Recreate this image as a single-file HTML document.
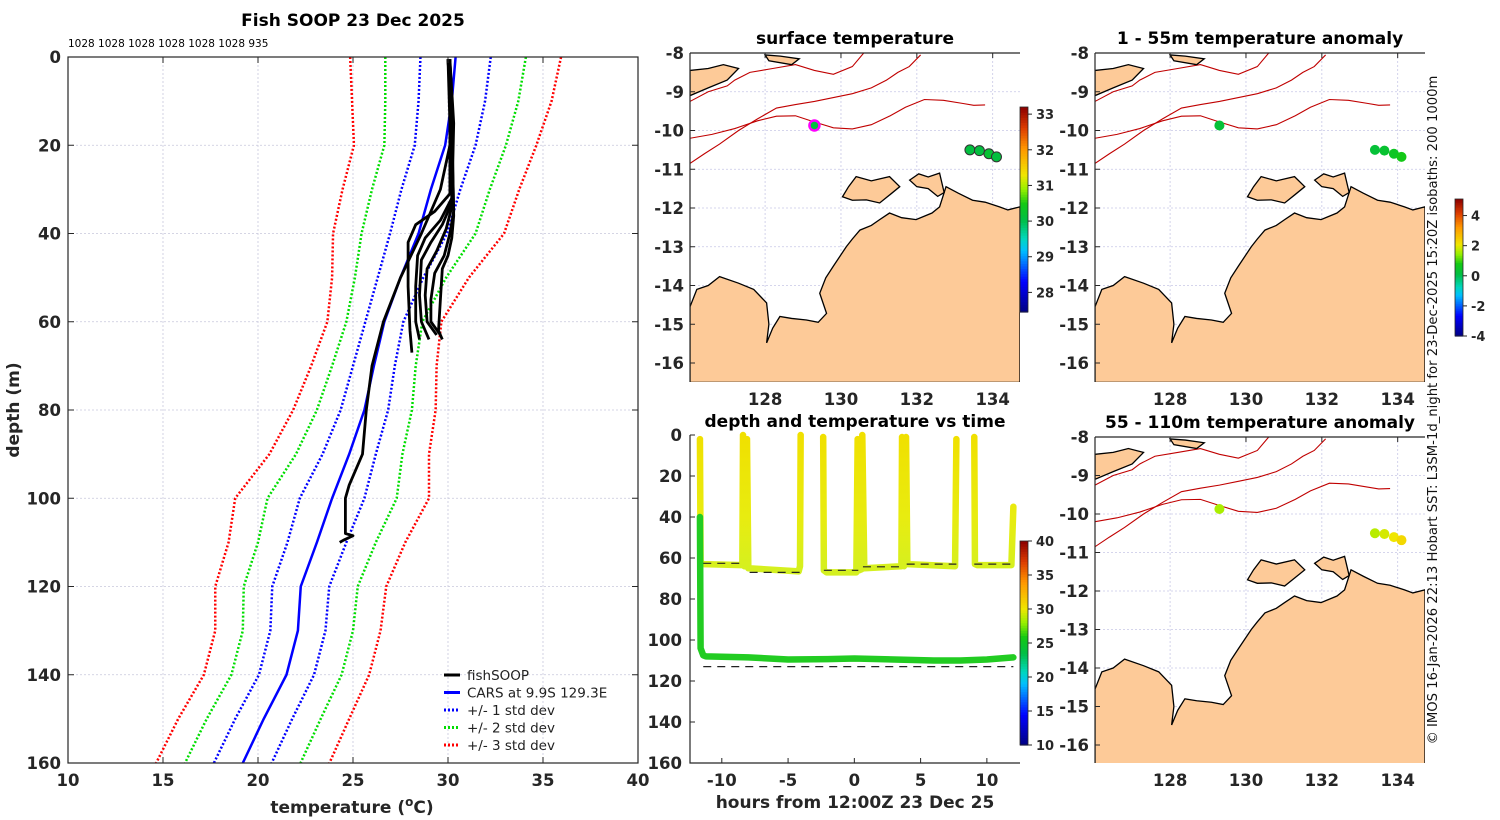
<!DOCTYPE html>
<html><head><meta charset="utf-8"><style>
html,body{margin:0;padding:0;background:#fff;}
svg{display:block;font-family:"DejaVu Sans","Liberation Sans",sans-serif;}
.tk{font-size:16.5px;font-weight:bold;fill:#262626;}
.ttl{font-size:17px;font-weight:bold;fill:#000;}
.plain{font-weight:normal;}
</style></head><body>
<svg id="fig" width="1500" height="820" viewBox="0 0 1500 820" xmlns="http://www.w3.org/2000/svg"></svg>
<script>
// ---------- Profile data ----------
const carsDepths = [0,10,20,30,40,50,60,70,80,90,100,110,120,130,140,150,160];
const carsMean   = [30.4,30.2,29.85,29.1,28.45,27.5,26.65,26.1,25.6,24.8,23.9,23.1,22.25,22.1,21.5,20.3,19.2];
const carsStd    = [1.85,1.75,1.6,1.55,1.5,1.2,1.0,1.1,1.25,1.4,1.7,1.55,1.5,1.45,1.45,1.5,1.52];
const xTicks = [10,15,20,25,30,35,40];
const yTicks = [0,20,40,60,80,100,120,140,160];
const headerCounts = "1028 1028 1028 1028 1028 1028 935";
const soopDeepT = [30.1,30.2,30.1,29.6,28.6,27.5,26.6,26.0,25.7,25.5,24.8,24.6,24.6,25.0,24.5,24.3];
const soopDeepD = [1,10,20,30,40,50,60,70,80,90,97,100,108,108.5,109.5,110];
const soopShallowT = [
 [30.0,30.1,30.1,29.3,28.3,27.9,27.9,28.0,28.1],
 [30.0,30.2,30.2,29.6,28.8,28.4,28.3,28.3,28.5],
 [30.1,30.2,30.2,29.7,29.1,28.6,28.5,28.6,29.0],
 [30.1,30.3,30.2,29.9,29.4,28.9,28.8,28.9,29.4],
 [30.1,30.2,30.3,30.1,29.8,29.3,29.1,29.1,29.6],
 [30.0,30.2,30.3,30.2,30.0,29.7,29.6,29.5,29.7]
];
const soopShallowD = [
 [0.5,15,31,35,38,42,52,62,67],
 [0.5,15,32,37,41,45,52,60,64],
 [0.5,15,33,38,42,46,54,60,64],
 [0.5,15,34,39,44,48,54,60,63],
 [0.5,15,35,40,45,49,55,60,63],
 [0.5,15,36,41,45,48,55,62,64]
];
// ---------- Map data ----------
const mapLonTicks = [128,130,132,134];
const mapLatTicks = [-8,-9,-10,-11,-12,-13,-14,-15,-16];
const australiaLon = [126.02,126.2,126.5,126.8,127.3,127.7,128.04,128.1,128.04,128.2,128.39,128.7,129.09,129.4,129.62,129.44,129.6,129.8,130.14,130.3,130.5,130.8,131.02,131.28,131.6,131.98,132.4,132.6,132.77,133.1,133.47,133.8,134.18,134.4,134.72,134.72,126.02];
const australiaLat = [-14.55,-14.1,-14.0,-13.77,-13.94,-14.1,-14.45,-15.0,-15.48,-15.1,-14.8,-14.85,-14.89,-14.95,-14.72,-14.2,-13.8,-13.5,-13.0,-12.8,-12.57,-12.45,-12.3,-12.13,-12.25,-12.3,-12.13,-11.97,-11.45,-11.62,-11.8,-11.85,-11.97,-12.05,-11.97,-16.5,-16.5];
const tiwiLon = [130.04,130.2,130.4,130.8,131.28,131.55,131.3,131.02,130.67,130.3];
const tiwiLat = [-11.71,-11.45,-11.19,-11.3,-11.19,-11.45,-11.65,-11.87,-11.79,-11.8];
const cobourgLon = [131.81,132.05,132.3,132.6,132.72,132.55,132.3,132.0];
const cobourgLat = [-11.28,-11.12,-11.2,-11.1,-11.6,-11.7,-11.5,-11.45];
const timorLon = [126.02,126.5,126.9,127.3,127.0,126.5,126.02];
const timorLat = [-8.45,-8.4,-8.3,-8.4,-8.7,-8.9,-9.1];
const isleLon = [128.0,128.4,128.9,128.7,128.1];
const isleLat = [-8.05,-8.08,-8.15,-8.3,-8.2];
const iso200Lon = [126.02,126.6,127.2,127.8,128.3,128.8,129.3,129.8,130.3,130.8,131.3,131.7,132.2,132.7,133.2,133.5,133.8];
const iso200Lat = [-10.2,-10.1,-9.95,-9.75,-9.63,-9.62,-9.78,-9.93,-9.96,-9.85,-9.62,-9.4,-9.2,-9.22,-9.3,-9.35,-9.34];
const iso1000Lon = [126.02,126.4,126.8,127.3,127.8,128.3,128.8,129.3,129.8,130.3,130.8,131.2,131.5,131.8,132.1];
const iso1000Lat = [-10.85,-10.6,-10.35,-10.0,-9.7,-9.42,-9.33,-9.25,-9.15,-9.05,-8.9,-8.7,-8.5,-8.35,-8.05];
const iso1000bLon = [126.02,126.5,127.0,127.2,127.6,128.2,128.8,129.3,129.8,130.3,130.6];
const iso1000bLat = [-9.25,-9.0,-8.85,-8.7,-8.5,-8.4,-8.3,-8.45,-8.55,-8.35,-8.0];
const shipLon = [129.3];
const shipLat = [-9.87];
const mooringLon = [133.4,133.65,133.9,134.1];
const mooringLat = [-10.5,-10.52,-10.6,-10.68];
const sstValues = [30.1,30.1,30.1,30.2,30.1];
const anom1Values = [0.3,0.3,0.4,0.6,0.8];
const anom2Values = [1.6,1.7,1.9,2.1,2.3];
const sstCbTicks = [28,29,30,31,32,33];
const anomCbTicks = [-4,-2,0,2,4];
const tempCbTicks = [10,15,20,25,30,35,40];
// ---------- Time-depth data (null = gap) ----------
const shallowHours = [-11.65,-11.6,-11.4,-8.45,-8.4,-8.3,-8.15,-8.1,-8.0,-4.2,-4.1,-4.05,null,-2.35,-2.3,-2.1,0.15,0.25,0.35,0.55,0.6,0.75,3.55,3.6,3.75,3.9,4.0,7.6,7.7,null,9.05,9.1,9.3,11.85,12.0];
const shallowDepths = [2,62,63,63.5,0,64,64,2,65,66.5,64,0,null,1,66,67,67,2,66,65.5,0,65,64,1,64,1,63,64,2,null,1,63,63.5,63.5,35];
const deepHours = [-11.65,-11.6,-11.4,-11.2,-8,-5,-2,0,3,6,8,10,12];
const deepDepths = [40,104,107.5,108,108.5,109.5,109.3,109,109.5,110,110,109.5,108.5];
const refStartH = [-11.4,-7.9,-2.3,0.65,3.95,9.05,-11.4];
const refEndH = [-8.4,-4.1,0.3,3.8,7.7,12.0,12.0];
const refDepth = [62.6,67,66,64.3,63,63,113];
const timeXTicks = [-10,-5,0,5,10];

// ---------- helpers ----------
const NS="http://www.w3.org/2000/svg";
const svg=document.getElementById('fig');
function mk(tag,attrs,parent){const e=document.createElementNS(NS,tag);for(const k in attrs)e.setAttribute(k,attrs[k]);(parent||svg).appendChild(e);return e;}
function txt(s,x,y,cls,anchor,parent,extra){const e=mk('text',Object.assign({x:x,y:y,class:cls,'text-anchor':anchor||'middle'},extra||{}),parent);e.textContent=s;return e;}
const cmapStops=[[0,[0,0,128]],[0.15,[0,0,255]],[0.3,[0,190,255]],[0.36,[0,215,190]],[0.45,[0,190,70]],[0.53,[20,200,20]],[0.6,[150,240,0]],[0.67,[240,230,0]],[0.8,[255,150,0]],[0.9,[220,60,0]],[1,[140,0,0]]];
function jet(f){f=Math.max(0,Math.min(1,f));for(let i=1;i<cmapStops.length;i++){if(f<=cmapStops[i][0]){const a=cmapStops[i-1],b=cmapStops[i];const u=(f-a[0])/(b[0]-a[0]);const c=a[1].map((v,k)=>Math.round(v+(b[1][k]-v)*u));return `rgb(${c[0]},${c[1]},${c[2]})`;}}return 'rgb(140,0,0)';}

// ---------- Profile panel ----------
const P={l:68,r:638,t:57,b:763};
const px=t=>P.l+(t-10)/30*(P.r-P.l);
const py=d=>P.t+d/160*(P.b-P.t);
const gP=mk('g',{});


xTicks.forEach(t=>{if(t>10&&t<40)mk('line',{x1:px(t),x2:px(t),y1:P.t,y2:P.b,stroke:'#c8c8dc','stroke-width':0.8,'stroke-dasharray':'2,2'},gP);});
yTicks.forEach(d=>{if(d>0&&d<160)mk('line',{x1:P.l,x2:P.r,y1:py(d),y2:py(d),stroke:'#c8c8dc','stroke-width':0.8,'stroke-dasharray':'2,2'},gP);});
const sdCols={1:'#0000ff',2:'#00dd00',3:'#ff0000'};
[3,2,1].forEach(k=>{[-1,1].forEach(s=>{
  const pts=carsDepths.map((d,i)=>px(carsMean[i]+s*k*carsStd[i])+','+py(d)).join(' ');
  const e=mk('polyline',{points:pts,fill:'none',stroke:sdCols[k],'stroke-width':2.5,'stroke-dasharray':'2,2'},gP);
  
  
});});
const cars=mk('polyline',{points:carsDepths.map((d,i)=>px(carsMean[i])+','+py(d)).join(' '),fill:'none',stroke:'#0000ff','stroke-width':2.5},gP);


soopShallowT.forEach((arr,j)=>{
  const e=mk('polyline',{points:arr.map((t,i)=>px(t)+','+py(soopShallowD[j][i])).join(' '),fill:'none',stroke:'#000','stroke-width':2.8,'stroke-linejoin':'round'},gP);
  
  
});
const deepP=mk('polyline',{points:soopDeepT.map((t,i)=>px(t)+','+py(soopDeepD[i])).join(' '),fill:'none',stroke:'#000','stroke-width':2.8,'stroke-linejoin':'round'},gP);


mk('rect',{x:P.l,y:P.t,width:P.r-P.l,height:P.b-P.t,fill:'none',stroke:'#262626','stroke-width':1.2},gP);
xTicks.forEach(t=>{mk('line',{x1:px(t),x2:px(t),y1:P.b,y2:P.b-6,stroke:'#262626'},gP);mk('line',{x1:px(t),x2:px(t),y1:P.t,y2:P.t+6,stroke:'#262626'},gP);txt(String(t),px(t),786,'tk','middle',gP);});
yTicks.forEach(d=>{mk('line',{x1:P.l,x2:P.l+6,y1:py(d),y2:py(d),stroke:'#262626'},gP);mk('line',{x1:P.r,x2:P.r-6,y1:py(d),y2:py(d),stroke:'#262626'},gP);txt(String(d),61,py(d)+6,'tk','end',gP);});
const xt=mk('text',{x:352,y:813,class:'tk','text-anchor':'middle',style:'font-size:17px'},gP);

xt.innerHTML='temperature (<tspan dy="-7" font-size="12">o</tspan><tspan dy="7">C)</tspan>';
const yt=txt('depth (m)',19,410,'tk','middle',gP,{transform:'rotate(-90 19 410)',style:'font-size:17px'});

const t1=txt('Fish SOOP 23 Dec 2025',353,26,'ttl','middle',gP);

const hc=txt(headerCounts,68,47,'plain','start',gP,{style:'font-size:10.5px;fill:#000'});

const leg=mk('g',{},gP);
const legItems=[['fishSOOP','#000',''],['CARS at 9.9S 129.3E','#0000ff',''],['+/- 1 std dev','#0000ff','2,2'],['+/- 2 std dev','#00dd00','2,2'],['+/- 3 std dev','#ff0000','2,2']];
legItems.forEach((it,i)=>{const y=675+i*17.5;mk('line',{x1:444,x2:460,y1:y,y2:y,stroke:it[1],'stroke-width':3,'stroke-dasharray':it[2]||'none'},leg);txt(it[0],467,y+5,'plain','start',leg,{style:'font-size:13.5px;fill:#222'});});

// ---------- Maps ----------
function drawMap(ax,title,values,cbInfo,markerRing,name){
  const g=mk('g',{});
  const lon0=126.02,lon1=134.72;
  const X=lo=>ax.l+(lo-lon0)/(lon1-lon0)*(ax.r-ax.l);
  const Y=la=>ax.lat8+(-8-la)*ax.sy;
  const cid='clip'+name;const cp=mk('clipPath',{id:cid},g);mk('rect',{x:ax.l,y:ax.t,width:ax.r-ax.l,height:ax.b-ax.t},cp);
  const gi=mk('g',{'clip-path':`url(#${cid})`},g);
  mapLonTicks.forEach(lo=>mk('line',{x1:X(lo),x2:X(lo),y1:ax.t,y2:ax.b,stroke:'#c8c8e6','stroke-width':0.8,'stroke-dasharray':'2,2'},gi));
  mapLatTicks.forEach(la=>mk('line',{x1:ax.l,x2:ax.r,y1:Y(la),y2:Y(la),stroke:'#c8c8e6','stroke-width':0.8,'stroke-dasharray':'2,2'},gi));
  const poly=(lons,lats,nm)=>{const e=mk('polygon',{points:lons.map((l,i)=>X(l)+','+Y(lats[i])).join(' '),fill:'#fdca98',stroke:'#000','stroke-width':1.3},gi);};
  const line=(lons,lats,nm)=>{const e=mk('polyline',{points:lons.map((l,i)=>X(l)+','+Y(lats[i])).join(' '),fill:'none',stroke:'#c00000','stroke-width':1.1},gi);};
  line(iso200Lon,iso200Lat,'isobath-200m');line(iso1000Lon,iso1000Lat,'isobath-1000m');line(iso1000bLon,iso1000bLat,'isobath-1000m-north');
  poly(australiaLon,australiaLat,'australia-land');poly(tiwiLon,tiwiLat,'tiwi-islands');poly(cobourgLon,cobourgLat,'cobourg-peninsula');poly(timorLon,timorLat,'timor-land');poly(isleLon,isleLat,'wetar-island');
  const allLon=shipLon.concat(mooringLon),allLat=shipLat.concat(mooringLat);
  allLon.forEach((lo,i)=>{
    const c=jet((values[i]-cbInfo.min)/(cbInfo.max-cbInfo.min));
    const e=mk('circle',{cx:X(lo),cy:Y(allLat[i]),r:5,fill:c,stroke:markerRing?(i==0?'#ff00ff':'#333'):'none','stroke-width':markerRing?(i==0?2.5:1):0},gi);
    
    
  });
  mk('path',{d:`M${ax.l},${ax.t} V${ax.b} M${ax.l},${ax.t} H${ax.r}`,stroke:'#262626','stroke-width':1.2,fill:'none'},g);
  mapLatTicks.forEach(la=>{const y=Y(la);if(y<ax.t-1||y>ax.b)return;mk('line',{x1:ax.l,x2:ax.l+5,y1:y,y2:y,stroke:'#262626'},g);txt(String(la),ax.l-6,y+6,'tk','end',g);});
  mapLonTicks.forEach(lo=>{mk('line',{x1:X(lo),x2:X(lo),y1:ax.t,y2:ax.t+5,stroke:'#262626'},g);txt(String(lo),X(lo),ax.b+23,'tk','middle',g);});
  const tt=txt(title,(ax.l+ax.r)/2,ax.t-9,'ttl','middle',g);
  return g;
}
function colorbar(x,y0,y1,min,max,ticks,name,w){
  const g=mk('g',{});
  const n=80;for(let i=0;i<n;i++){mk('rect',{x:x,y:y1-(i+1)*(y1-y0)/n,width:w||8,height:(y1-y0)/n+0.6,fill:jet((i+0.5)/n)},g);}
  mk('rect',{x:x,y:y0,width:w||8,height:y1-y0,fill:'none',stroke:'#262626','stroke-width':0.8},g);
  ticks.forEach(t=>{const y=y1-(t-min)/(max-min)*(y1-y0);if(y<y0-1)return;mk('line',{x1:x+(w||8),x2:x+(w||8)+4,y1:y,y2:y,stroke:'#262626'},g);txt(String(t),x+(w||8)+8,y+5,'tk','start',g,{style:'font-size:13px'});});
  return g;
}
const sstCb={min:27.45,max:33.2},anomCb={min:-4,max:5.1},tempCb={min:10,max:40};
drawMap({l:690,r:1020,t:53,b:382,lat8:53,sy:38.75},'surface temperature',sstValues,sstCb,true,'surface-temperature-map');
colorbar(1020,107,312,sstCb.min,sstCb.max,sstCbTicks,'sst-colorbar');
drawMap({l:1095,r:1425,t:53,b:382,lat8:53,sy:38.75},'1 - 55m temperature anomaly',anom1Values,anomCb,false,'anomaly-1-55m-map');
drawMap({l:1095,r:1425,t:437,b:763,lat8:437,sy:38.5},'55 - 110m temperature anomaly',anom2Values,anomCb,false,'anomaly-55-110m-map');
colorbar(1455,199,336,anomCb.min,anomCb.max,anomCbTicks,'anomaly-colorbar');

// ---------- Time-depth panel ----------
const T={l:690,r:1020,t:435,b:763};
const tx=h=>T.l+(h+12.4)/24.9*(T.r-T.l);
const ty=d=>T.t+d/160*(T.b-T.t);
const gT=mk('g',{});
const dg=mk('linearGradient',{id:'shg',x1:0,x2:0,gradientUnits:'userSpaceOnUse'},gT);
dg.setAttribute('y1',ty(0));dg.setAttribute('y2',ty(67));
mk('stop',{offset:'0','stop-color':'#f0e000'},dg);mk('stop',{offset:'0.6','stop-color':'#e8ec10'},dg);mk('stop',{offset:'1','stop-color':'#d4f020'},dg);
let dS='';let pen=false;
shallowHours.forEach((h,i)=>{if(h===null){pen=false;return;}dS+=(pen?'L':'M')+tx(h)+','+ty(shallowDepths[i])+' ';pen=true;});
const sh=mk('path',{d:dS,fill:'none',stroke:'url(#shg)','stroke-width':6.5,'stroke-linejoin':'round','stroke-linecap':'round'},gT);

const dp=mk('polyline',{points:deepHours.map((h,i)=>tx(h)+','+ty(deepDepths[i])).join(' '),fill:'none',stroke:'#22cc22','stroke-width':6.5,'stroke-linejoin':'round','stroke-linecap':'round'},gT);

refStartH.forEach((h,i)=>{const e=mk('line',{x1:tx(h),x2:tx(refEndH[i]),y1:ty(refDepth[i]),y2:ty(refDepth[i]),stroke:'#222','stroke-width':1.2,'stroke-dasharray':'8,6'},gT);});
mk('path',{d:`M${T.l},${T.t} V${T.b} H${T.r}`,stroke:'#262626','stroke-width':1.2,fill:'none'},gT);
yTicks.forEach(d=>{mk('line',{x1:T.l,x2:T.l+5,y1:ty(d),y2:ty(d),stroke:'#262626'},gT);txt(String(d),T.l-8,ty(d)+6,'tk','end',gT);});
timeXTicks.forEach(h=>{mk('line',{x1:tx(h),x2:tx(h),y1:T.b,y2:T.b-5,stroke:'#262626'},gT);txt(String(h),tx(h),786,'tk','middle',gT);});
const tx2=txt('hours from 12:00Z 23 Dec 25',855,808,'tk','middle',gT,{style:'font-size:17px'});
const t3=txt('depth and temperature vs time',855,427,'ttl','middle',gT);
colorbar(1020,541,745,tempCb.min,tempCb.max,tempCbTicks,'temperature-colorbar');

const vt=txt('© IMOS 16-Jan-2026 22:13 Hobart SST: L3SM-1d_night for 23-Dec-2025 15:20Z isobaths: 200  1000m',1437,410,'plain','middle',null,{transform:'rotate(-90 1437 410)',style:'font-size:13.2px;fill:#111'});

</script>
</body></html>
